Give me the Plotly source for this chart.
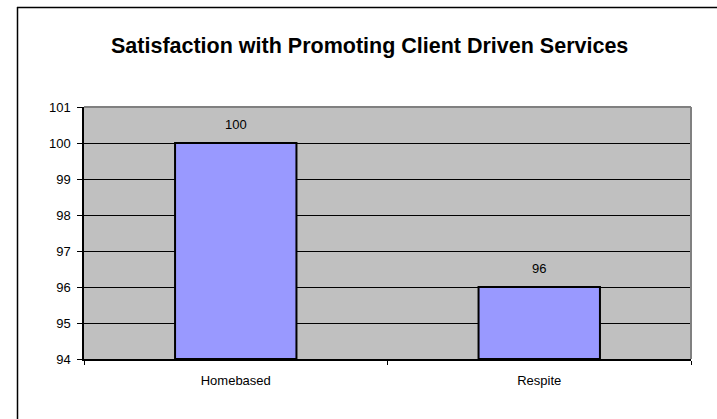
import plotly.graph_objects as go

# Chart data
categories = ["Homebased", "Respite"]
satisfaction = [100, 96]
y_ticks = [94, 95, 96, 97, 98, 99, 100, 101]
axis_floor = 94

W, H = 717, 419
L, R, T, B = 84, 691, 107, 359
FONT = "Liberation Sans, Arial"

def px_x(p):
    return (p - L) / (R - L)

def px_y(p):
    return (B - p) / (B - T)

fig = go.Figure()
# bars rise from the axis floor up to each value
fig.add_trace(go.Bar(
    x=categories,
    y=[v - axis_floor for v in satisfaction],
    base=axis_floor,
    width=0.4,
    marker=dict(color="#9999FF", line=dict(color="black", width=2)),
    hoverinfo="skip",
))

for c, v in zip(categories, satisfaction):
    fig.add_annotation(x=c, y=v, text=str(v), showarrow=False,
                       yanchor="bottom", yshift=9,
                       font=dict(family=FONT, size=13, color="black"))

fig.add_annotation(xref="paper", yref="paper", x=px_x(369.5), y=px_y(46.5),
                   text="<b>Satisfaction with Promoting Client Driven Services</b>",
                   showarrow=False, xanchor="center", yanchor="middle",
                   font=dict(family=FONT, size=21.5, color="black"))

# outer chart frame (top and left edges visible)
fig.add_shape(type="line", xref="paper", yref="paper",
              x0=px_x(17), y0=px_y(7.5), x1=px_x(730), y1=px_y(7.5),
              line=dict(color="black", width=1.5))
fig.add_shape(type="line", xref="paper", yref="paper",
              x0=px_x(17.5), y0=px_y(7), x1=px_x(17.5), y1=px_y(430),
              line=dict(color="black", width=1.5))
# plot area border: top and right in gray
fig.add_shape(type="line", xref="paper", yref="paper",
              x0=0, y0=1, x1=1, y1=1, line=dict(color="#808080", width=2))
fig.add_shape(type="line", xref="paper", yref="paper",
              x0=1, y0=0, x1=1, y1=1, line=dict(color="#808080", width=2))

fig.update_layout(
    width=W, height=H,
    margin=dict(l=L, r=W - R, t=T, b=H - B),
    paper_bgcolor="white",
    plot_bgcolor="#C0C0C0",
    showlegend=False,
    font=dict(family=FONT, size=13, color="black"),
)
fig.update_xaxes(
    type="category", showgrid=False, showline=True, linecolor="black", linewidth=1.5,
    ticks="outside", tickson="boundaries", ticklen=4, tickcolor="black",
    tickfont=dict(size=13), ticklabelstandoff=9, fixedrange=True,
)
fig.update_yaxes(
    range=[94, 101], tickvals=y_ticks, ticktext=[str(t) for t in y_ticks],
    showgrid=True, gridcolor="black", gridwidth=1,
    showline=True, linecolor="black", linewidth=1.5, zeroline=False,
    ticks="outside", ticklen=5, tickcolor="black", tickfont=dict(size=13),
    ticklabelstandoff=4, fixedrange=True,
)

fig.write_html("out.html")
